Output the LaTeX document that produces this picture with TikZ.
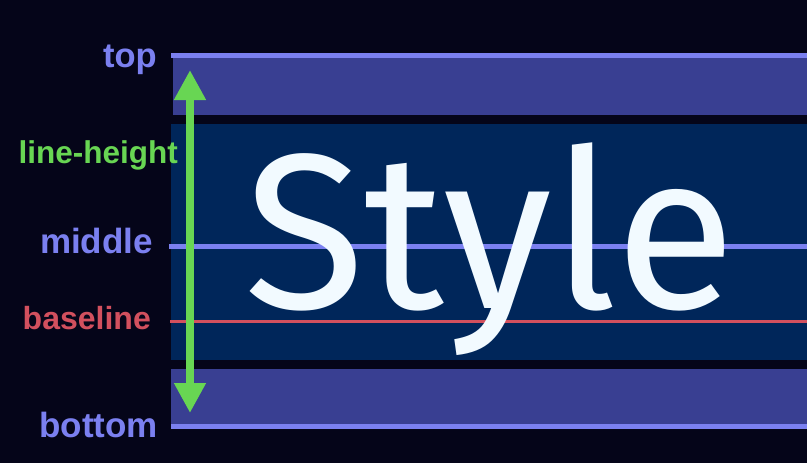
\documentclass[tikz,border=0pt]{standalone}
\usepackage{fontspec}
\setmainfont{Liberation Sans}
\newfontfamily\stylefont{Fira Sans}
\usetikzlibrary{arrows.meta}
\definecolor{bgc}{HTML}{050519}
\definecolor{bandc}{HTML}{393F92}
\definecolor{bluec}{HTML}{00265A}
\definecolor{linec}{HTML}{7B80F0}
\definecolor{redc}{HTML}{D2505E}
\definecolor{greenc}{HTML}{68D653}
\definecolor{textc}{HTML}{F2FAFF}
\tikzset{
  lbl/.style={anchor=base east, inner sep=0pt, font=\bfseries\fontsize{#1}{#1}\selectfont},
  lbl/.default=33,
}
\begin{document}
\begin{tikzpicture}[x=1pt,y=-1pt]
\fill[bgc] (0,0) rectangle (807,463);
\useasboundingbox (0,0) rectangle (807,463);
% bands
\fill[bandc] (173,58) rectangle (807,115);
\fill[bluec] (171,124) rectangle (807,360);
\fill[bandc] (171,369) rectangle (807,424);
% lines
\fill[linec] (171,53) rectangle (807,58);
\fill[linec] (171,424) rectangle (807,429);
\fill[linec] (169,244) rectangle (807,249);
\fill[redc] (170,319.5) rectangle (807,322.5);
% main text
\node[anchor=base west, inner sep=0pt, text=textc, font=\stylefont\fontsize{221}{221}\selectfont] (style) at (244,308) {Style};
% arrow
\coordinate (lhtop) at (190,70);
\coordinate (lhbot) at (190,413);
\draw[greenc, line width=8pt, {Triangle[length=30pt,width=30pt]}-{Triangle[length=30pt,width=30pt]}] (lhtop) -- (lhbot);
% labels
\node[lbl=34.5, text=linec] (ltop) at (157,67) {top};
\node[lbl=31.5, text=greenc] (llh) at (178,163) {line-height};
\node[lbl=35, text=linec] (lmid) at (153,253) {middle};
\node[lbl=32, text=redc] (lbase) at (151,329) {baseline};
\node[lbl=35, text=linec] (lbot) at (158,437) {bottom};
\end{tikzpicture}
\end{document}
